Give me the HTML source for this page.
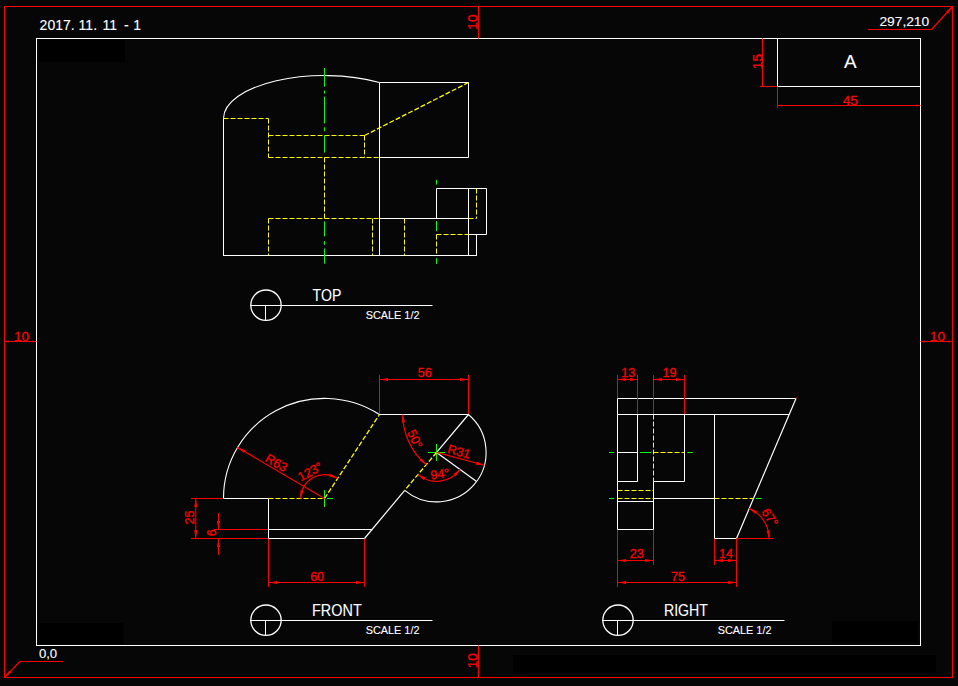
<!DOCTYPE html>
<html><head><meta charset="utf-8"><title>drawing</title>
<style>
html,body{margin:0;padding:0;background:#060606;overflow:hidden}
svg{display:block}
text{font-family:"Liberation Sans",sans-serif}
</style></head><body>
<svg width="958" height="686" viewBox="0 0 958 686">
<rect x="0" y="0" width="958" height="686" fill="#060606"/>
<rect x="39" y="39.6" width="86" height="22.4" fill="#000"/>
<rect x="39.6" y="623" width="83.80000000000001" height="21" fill="#000"/>
<rect x="832" y="621.3" width="86" height="21.200000000000045" fill="#000"/>
<rect x="513.3" y="655" width="422.4000000000001" height="17.700000000000045" fill="#000"/>
<rect x="4.5" y="6.5" width="948" height="671" fill="none" stroke="#ff0000" stroke-width="1"/>
<rect x="36.5" y="38.5" width="884" height="607" fill="none" stroke="#ffffff" stroke-width="1"/>
<line x1="777.50" y1="38.50" x2="777.50" y2="86.50" stroke="#ffffff" stroke-width="1"/>
<line x1="777.50" y1="86.50" x2="920.50" y2="86.50" stroke="#ffffff" stroke-width="1"/>
<path d="M223.5,118.5 A101,43 0 0 1 379.5,82.5" fill="none" stroke="#ffffff" stroke-width="1.1"/>
<line x1="223.50" y1="118.50" x2="223.50" y2="255.50" stroke="#ffffff" stroke-width="1"/>
<line x1="223.00" y1="255.50" x2="477.00" y2="255.50" stroke="#ffffff" stroke-width="1"/>
<line x1="379.50" y1="82.50" x2="379.50" y2="255.50" stroke="#ffffff" stroke-width="1"/>
<line x1="379.50" y1="82.50" x2="468.50" y2="82.50" stroke="#ffffff" stroke-width="1"/>
<line x1="468.50" y1="82.50" x2="468.50" y2="157.50" stroke="#ffffff" stroke-width="1"/>
<line x1="379.50" y1="157.50" x2="468.50" y2="157.50" stroke="#ffffff" stroke-width="1"/>
<line x1="379.50" y1="218.50" x2="468.50" y2="218.50" stroke="#ffffff" stroke-width="1"/>
<line x1="436.50" y1="188.50" x2="436.50" y2="218.50" stroke="#ffffff" stroke-width="1"/>
<line x1="436.50" y1="188.50" x2="486.50" y2="188.50" stroke="#ffffff" stroke-width="1"/>
<line x1="486.50" y1="188.50" x2="486.50" y2="234.50" stroke="#ffffff" stroke-width="1"/>
<line x1="468.50" y1="234.50" x2="486.50" y2="234.50" stroke="#ffffff" stroke-width="1"/>
<line x1="468.50" y1="188.50" x2="468.50" y2="255.50" stroke="#ffffff" stroke-width="1"/>
<line x1="476.50" y1="234.50" x2="476.50" y2="255.50" stroke="#ffffff" stroke-width="1"/>
<line x1="223.50" y1="118.50" x2="268.50" y2="118.50" stroke="#ffff00" stroke-width="1" stroke-dasharray="5 2"/>
<line x1="268.50" y1="118.50" x2="268.50" y2="157.50" stroke="#ffff00" stroke-width="1" stroke-dasharray="5 2"/>
<line x1="268.50" y1="135.50" x2="364.50" y2="135.50" stroke="#ffff00" stroke-width="1" stroke-dasharray="5 2"/>
<line x1="268.50" y1="157.50" x2="379.50" y2="157.50" stroke="#ffff00" stroke-width="1" stroke-dasharray="5 2"/>
<line x1="364.50" y1="135.50" x2="364.50" y2="157.50" stroke="#ffff00" stroke-width="1" stroke-dasharray="5 2"/>
<line x1="364.50" y1="135.50" x2="468.50" y2="82.50" stroke="#ffff00" stroke-width="1.3" stroke-dasharray="5 2"/>
<line x1="324.50" y1="157.50" x2="324.50" y2="218.50" stroke="#ffff00" stroke-width="1" stroke-dasharray="5 2"/>
<line x1="268.50" y1="218.50" x2="379.50" y2="218.50" stroke="#ffff00" stroke-width="1" stroke-dasharray="5 2"/>
<line x1="268.50" y1="218.50" x2="268.50" y2="255.50" stroke="#ffff00" stroke-width="1" stroke-dasharray="5 2"/>
<line x1="372.50" y1="218.50" x2="372.50" y2="255.50" stroke="#ffff00" stroke-width="1" stroke-dasharray="5 2"/>
<line x1="404.50" y1="218.50" x2="404.50" y2="255.50" stroke="#ffff00" stroke-width="1" stroke-dasharray="5 2"/>
<line x1="476.50" y1="188.50" x2="476.50" y2="218.50" stroke="#ffff00" stroke-width="1" stroke-dasharray="5 2"/>
<line x1="468.50" y1="218.50" x2="476.50" y2="218.50" stroke="#ffff00" stroke-width="1" stroke-dasharray="5 2"/>
<line x1="436.50" y1="234.50" x2="468.50" y2="234.50" stroke="#ffff00" stroke-width="1" stroke-dasharray="5 2"/>
<line x1="436.50" y1="234.50" x2="436.50" y2="255.50" stroke="#ffff00" stroke-width="1" stroke-dasharray="5 2"/>
<line x1="324.50" y1="68.00" x2="324.50" y2="86.80" stroke="#00ff00" stroke-width="1"/>
<line x1="324.50" y1="90.60" x2="324.50" y2="93.70" stroke="#00ff00" stroke-width="1"/>
<line x1="324.50" y1="96.70" x2="324.50" y2="123.50" stroke="#00ff00" stroke-width="1"/>
<line x1="324.50" y1="127.30" x2="324.50" y2="131.20" stroke="#00ff00" stroke-width="1"/>
<line x1="324.50" y1="135.00" x2="324.50" y2="152.60" stroke="#00ff00" stroke-width="1"/>
<line x1="324.50" y1="221.40" x2="324.50" y2="236.40" stroke="#00ff00" stroke-width="1"/>
<line x1="324.50" y1="241.10" x2="324.50" y2="244.90" stroke="#00ff00" stroke-width="1"/>
<line x1="324.50" y1="248.60" x2="324.50" y2="263.70" stroke="#00ff00" stroke-width="1"/>
<line x1="436.50" y1="179.90" x2="436.50" y2="184.60" stroke="#00ff00" stroke-width="1"/>
<line x1="436.50" y1="221.00" x2="436.50" y2="231.20" stroke="#00ff00" stroke-width="1"/>
<line x1="436.50" y1="258.20" x2="436.50" y2="264.00" stroke="#00ff00" stroke-width="1"/>
<circle cx="266.0" cy="305.2" r="15.2" fill="none" stroke="#ffffff" stroke-width="1.3"/>
<line x1="250.30" y1="305.50" x2="432.50" y2="305.50" stroke="#ffffff" stroke-width="1"/>
<line x1="265.50" y1="305.55" x2="265.50" y2="320.45" stroke="#ffffff" stroke-width="1"/>
<text x="312.60" y="300.85" font-size="16" fill="#ffffff" stroke="#ffffff" stroke-width="0.1" text-anchor="start" textLength="28.7" lengthAdjust="spacingAndGlyphs">TOP</text>
<text x="365.70" y="318.95" font-size="11.5" fill="#ffffff" stroke="#ffffff" stroke-width="0.1" text-anchor="start" textLength="53.8" lengthAdjust="spacingAndGlyphs">SCALE 1/2</text>
<circle cx="266.0" cy="620.1999999999999" r="15.2" fill="none" stroke="#ffffff" stroke-width="1.3"/>
<line x1="250.30" y1="620.50" x2="432.50" y2="620.50" stroke="#ffffff" stroke-width="1"/>
<line x1="265.50" y1="620.55" x2="265.50" y2="635.45" stroke="#ffffff" stroke-width="1"/>
<text x="312.00" y="615.85" font-size="16" fill="#ffffff" stroke="#ffffff" stroke-width="0.1" text-anchor="start" textLength="49.7" lengthAdjust="spacingAndGlyphs">FRONT</text>
<text x="365.70" y="633.95" font-size="11.5" fill="#ffffff" stroke="#ffffff" stroke-width="0.1" text-anchor="start" textLength="53.8" lengthAdjust="spacingAndGlyphs">SCALE 1/2</text>
<circle cx="618.0" cy="620.1999999999999" r="15.2" fill="none" stroke="#ffffff" stroke-width="1.3"/>
<line x1="602.30" y1="620.50" x2="784.50" y2="620.50" stroke="#ffffff" stroke-width="1"/>
<line x1="617.50" y1="620.55" x2="617.50" y2="635.45" stroke="#ffffff" stroke-width="1"/>
<text x="664.00" y="615.85" font-size="16" fill="#ffffff" stroke="#ffffff" stroke-width="0.1" text-anchor="start" textLength="43.9" lengthAdjust="spacingAndGlyphs">RIGHT</text>
<text x="717.70" y="633.95" font-size="11.5" fill="#ffffff" stroke="#ffffff" stroke-width="0.1" text-anchor="start" textLength="53.8" lengthAdjust="spacingAndGlyphs">SCALE 1/2</text>
<path d="M223.5,498.5 A101,100 0 0 1 379.5,414.5" fill="none" stroke="#ffffff" stroke-width="1.1"/>
<line x1="223.50" y1="498.50" x2="268.50" y2="498.50" stroke="#ffffff" stroke-width="1"/>
<line x1="268.50" y1="498.50" x2="268.50" y2="538.50" stroke="#ffffff" stroke-width="1"/>
<line x1="268.50" y1="529.50" x2="372.00" y2="529.50" stroke="#ffffff" stroke-width="1"/>
<line x1="268.50" y1="538.50" x2="364.50" y2="538.50" stroke="#ffffff" stroke-width="1"/>
<line x1="379.50" y1="414.50" x2="468.50" y2="414.50" stroke="#ffffff" stroke-width="1"/>
<line x1="468.50" y1="414.50" x2="436.60" y2="452.40" stroke="#ffffff" stroke-width="1.2"/>
<line x1="404.70" y1="490.30" x2="364.50" y2="538.50" stroke="#ffffff" stroke-width="1.2"/>
<line x1="436.60" y1="452.40" x2="476.30" y2="481.30" stroke="#ffffff" stroke-width="1.2"/>
<path d="M404.78,490.32 A49.50,49.50 0 0 0 468.42,414.48" fill="none" stroke="#ffffff" stroke-width="1.1"/>
<line x1="324.50" y1="490.00" x2="324.50" y2="507.00" stroke="#00ff00" stroke-width="1"/>
<line x1="327.00" y1="498.50" x2="333.00" y2="498.50" stroke="#00ff00" stroke-width="1"/>
<line x1="436.50" y1="444.00" x2="436.50" y2="461.00" stroke="#00ff00" stroke-width="1"/>
<line x1="428.00" y1="452.50" x2="445.00" y2="452.50" stroke="#00ff00" stroke-width="1"/>
<line x1="268.50" y1="498.50" x2="324.50" y2="498.50" stroke="#ffff00" stroke-width="1" stroke-dasharray="5 2"/>
<line x1="324.50" y1="498.50" x2="379.50" y2="414.50" stroke="#ffff00" stroke-width="1.3" stroke-dasharray="5 2"/>
<line x1="436.60" y1="452.40" x2="404.70" y2="490.30" stroke="#ffff00" stroke-width="1.3" stroke-dasharray="5 2"/>
<line x1="379.50" y1="375.00" x2="379.50" y2="414.00" stroke="#ff0000" stroke-width="1"/>
<line x1="468.50" y1="375.00" x2="468.50" y2="414.00" stroke="#ff0000" stroke-width="1"/>
<line x1="379.50" y1="379.50" x2="468.50" y2="379.50" stroke="#ff0000" stroke-width="1"/>
<polygon points="379.50,379.50 388.00,377.90 388.00,381.10" fill="#ff0000"/>
<polygon points="468.50,379.50 460.00,381.10 460.00,377.90" fill="#ff0000"/>
<text x="424.65" y="376.80" font-size="12.5" fill="#ff0000" stroke="#ff0000" stroke-width="0.3" text-anchor="middle">56</text>
<line x1="268.50" y1="539.00" x2="268.50" y2="587.00" stroke="#ff0000" stroke-width="1"/>
<line x1="364.50" y1="539.00" x2="364.50" y2="587.00" stroke="#ff0000" stroke-width="1"/>
<line x1="268.50" y1="582.50" x2="364.50" y2="582.50" stroke="#ff0000" stroke-width="1"/>
<polygon points="268.50,582.50 277.00,580.90 277.00,584.10" fill="#ff0000"/>
<polygon points="364.50,582.50 356.00,584.10 356.00,580.90" fill="#ff0000"/>
<text x="317.10" y="580.70" font-size="12.5" fill="#ff0000" stroke="#ff0000" stroke-width="0.3" text-anchor="middle">60</text>
<line x1="191.00" y1="498.50" x2="223.00" y2="498.50" stroke="#ff0000" stroke-width="1"/>
<line x1="191.00" y1="538.50" x2="268.00" y2="538.50" stroke="#ff0000" stroke-width="1"/>
<line x1="195.80" y1="498.50" x2="195.80" y2="538.50" stroke="#ff0000" stroke-width="1"/>
<polygon points="195.80,498.50 197.40,507.00 194.20,507.00" fill="#ff0000"/>
<polygon points="195.80,538.50 194.20,530.00 197.40,530.00" fill="#ff0000"/>
<text x="0" y="4.47" font-size="12.5" fill="#ff0000" stroke="#ff0000" stroke-width="0.3" text-anchor="middle" transform="translate(189.40 517.60) rotate(-90)">25</text>
<line x1="214.00" y1="529.50" x2="268.00" y2="529.50" stroke="#ff0000" stroke-width="1"/>
<line x1="218.50" y1="513.00" x2="218.50" y2="529.50" stroke="#ff0000" stroke-width="1"/>
<line x1="218.50" y1="538.50" x2="218.50" y2="555.00" stroke="#ff0000" stroke-width="1"/>
<polygon points="218.50,529.50 216.90,521.00 220.10,521.00" fill="#ff0000"/>
<polygon points="218.50,538.50 220.10,547.00 216.90,547.00" fill="#ff0000"/>
<text x="0" y="4.47" font-size="12.5" fill="#ff0000" stroke="#ff0000" stroke-width="0.3" text-anchor="middle" transform="translate(211.90 532.90) rotate(-90)">6</text>
<line x1="324.50" y1="498.50" x2="237.39" y2="447.39" stroke="#ff0000" stroke-width="1.2"/>
<polygon points="237.39,447.39 245.53,450.31 243.91,453.07" fill="#ff0000"/>
<text x="0" y="4.47" font-size="12.5" fill="#ff0000" stroke="#ff0000" stroke-width="0.3" text-anchor="middle" transform="translate(276.50 462.60) rotate(30.4)">R63</text>
<path d="M337.52,478.46 A23.90,23.90 0 0 0 300.60,498.50" fill="none" stroke="#ff0000" stroke-width="1.2"/>
<polygon points="337.52,478.46 329.54,476.75 330.81,473.81" fill="#ff0000"/>
<polygon points="300.60,498.50 300.36,490.35 303.51,490.88" fill="#ff0000"/>
<text x="0" y="4.47" font-size="12.5" fill="#ff0000" stroke="#ff0000" stroke-width="0.3" text-anchor="middle" transform="translate(310.00 471.40) rotate(-28.5)">123°</text>
<path d="M402.80,414.50 A65.70,65.70 0 0 0 426.27,464.83" fill="none" stroke="#ff0000" stroke-width="1.2"/>
<polygon points="402.80,414.50 404.88,422.39 401.69,422.58" fill="#ff0000"/>
<polygon points="426.27,464.83 419.36,460.48 421.57,458.16" fill="#ff0000"/>
<text x="0" y="4.47" font-size="12.5" fill="#ff0000" stroke="#ff0000" stroke-width="0.3" text-anchor="middle" transform="translate(415.00 439.00) rotate(65)">50°</text>
<line x1="436.60" y1="452.40" x2="484.39" y2="465.29" stroke="#ff0000" stroke-width="1.2"/>
<polygon points="484.39,465.29 475.77,464.63 476.60,461.54" fill="#ff0000"/>
<text x="0" y="4.47" font-size="12.5" fill="#ff0000" stroke="#ff0000" stroke-width="0.3" text-anchor="middle" transform="translate(459.10 451.50) rotate(15.1)">R31</text>
<path d="M417.96,474.62 A29.00,29.00 0 0 0 460.06,469.45" fill="none" stroke="#ff0000" stroke-width="1.2"/>
<polygon points="417.96,474.62 425.59,477.51 423.89,480.22" fill="#ff0000"/>
<polygon points="460.06,469.45 455.67,476.32 453.36,474.10" fill="#ff0000"/>
<text x="0" y="4.47" font-size="12.5" fill="#ff0000" stroke="#ff0000" stroke-width="0.3" text-anchor="middle" transform="translate(439.90 473.80) rotate(-7)">94°</text>
<line x1="617.50" y1="398.50" x2="796.00" y2="398.50" stroke="#ffffff" stroke-width="1"/>
<line x1="617.50" y1="414.50" x2="789.20" y2="414.50" stroke="#ffffff" stroke-width="1"/>
<line x1="617.50" y1="398.50" x2="617.50" y2="529.50" stroke="#ffffff" stroke-width="1"/>
<line x1="617.50" y1="529.50" x2="653.50" y2="529.50" stroke="#ffffff" stroke-width="1"/>
<line x1="653.50" y1="481.50" x2="653.50" y2="529.50" stroke="#ffffff" stroke-width="1"/>
<line x1="637.50" y1="414.50" x2="637.50" y2="481.50" stroke="#ffffff" stroke-width="1"/>
<line x1="617.50" y1="481.50" x2="637.50" y2="481.50" stroke="#ffffff" stroke-width="1"/>
<line x1="653.50" y1="481.50" x2="684.50" y2="481.50" stroke="#ffffff" stroke-width="1"/>
<line x1="684.50" y1="414.50" x2="684.50" y2="481.50" stroke="#ffffff" stroke-width="1"/>
<line x1="617.50" y1="452.50" x2="637.50" y2="452.50" stroke="#ffffff" stroke-width="1"/>
<line x1="617.50" y1="501.50" x2="653.50" y2="501.50" stroke="#ffffff" stroke-width="1"/>
<line x1="653.50" y1="498.50" x2="714.50" y2="498.50" stroke="#ffffff" stroke-width="1"/>
<line x1="714.50" y1="414.50" x2="714.50" y2="538.50" stroke="#ffffff" stroke-width="1"/>
<line x1="714.50" y1="538.50" x2="736.50" y2="538.50" stroke="#ffffff" stroke-width="1"/>
<line x1="736.50" y1="538.50" x2="796.00" y2="398.50" stroke="#ffffff" stroke-width="1.2"/>
<line x1="653.50" y1="414.50" x2="653.50" y2="481.50" stroke="#ffff00" stroke-width="1" stroke-dasharray="5 2"/>
<line x1="653.50" y1="452.50" x2="684.50" y2="452.50" stroke="#ffff00" stroke-width="1" stroke-dasharray="5 2"/>
<line x1="617.50" y1="490.50" x2="653.50" y2="490.50" stroke="#ffff00" stroke-width="1" stroke-dasharray="5 2"/>
<line x1="617.50" y1="498.50" x2="653.50" y2="498.50" stroke="#ffff00" stroke-width="1" stroke-dasharray="5 2"/>
<line x1="714.50" y1="498.50" x2="753.70" y2="498.50" stroke="#ffff00" stroke-width="1" stroke-dasharray="5 2"/>
<line x1="609.00" y1="452.50" x2="614.10" y2="452.50" stroke="#00ff00" stroke-width="1"/>
<line x1="640.10" y1="452.50" x2="651.00" y2="452.50" stroke="#00ff00" stroke-width="1"/>
<line x1="687.40" y1="452.50" x2="692.80" y2="452.50" stroke="#00ff00" stroke-width="1"/>
<line x1="609.00" y1="498.50" x2="614.10" y2="498.50" stroke="#00ff00" stroke-width="1"/>
<line x1="756.00" y1="498.50" x2="761.80" y2="498.50" stroke="#00ff00" stroke-width="1"/>
<line x1="617.50" y1="375.00" x2="617.50" y2="398.00" stroke="#ff0000" stroke-width="1"/>
<line x1="637.50" y1="375.00" x2="637.50" y2="414.00" stroke="#ff0000" stroke-width="1"/>
<line x1="617.50" y1="379.50" x2="637.50" y2="379.50" stroke="#ff0000" stroke-width="1"/>
<polygon points="617.50,379.50 625.00,377.90 625.00,381.10" fill="#ff0000"/>
<polygon points="637.50,379.50 630.00,381.10 630.00,377.90" fill="#ff0000"/>
<text x="628.30" y="376.80" font-size="12.5" fill="#ff0000" stroke="#ff0000" stroke-width="0.3" text-anchor="middle">13</text>
<line x1="653.50" y1="375.00" x2="653.50" y2="414.00" stroke="#ff0000" stroke-width="1"/>
<line x1="684.50" y1="375.00" x2="684.50" y2="414.00" stroke="#ff0000" stroke-width="1"/>
<line x1="653.50" y1="379.50" x2="684.50" y2="379.50" stroke="#ff0000" stroke-width="1"/>
<polygon points="653.50,379.50 662.00,377.90 662.00,381.10" fill="#ff0000"/>
<polygon points="684.50,379.50 676.00,381.10 676.00,377.90" fill="#ff0000"/>
<text x="669.55" y="376.80" font-size="12.5" fill="#ff0000" stroke="#ff0000" stroke-width="0.3" text-anchor="middle">19</text>
<line x1="617.50" y1="530.00" x2="617.50" y2="587.00" stroke="#ff0000" stroke-width="1"/>
<line x1="653.50" y1="530.00" x2="653.50" y2="565.00" stroke="#ff0000" stroke-width="1"/>
<line x1="617.50" y1="560.50" x2="653.50" y2="560.50" stroke="#ff0000" stroke-width="1"/>
<polygon points="617.50,560.50 626.00,558.90 626.00,562.10" fill="#ff0000"/>
<polygon points="653.50,560.50 645.00,562.10 645.00,558.90" fill="#ff0000"/>
<text x="636.65" y="558.00" font-size="12.5" fill="#ff0000" stroke="#ff0000" stroke-width="0.3" text-anchor="middle">23</text>
<line x1="714.50" y1="539.00" x2="714.50" y2="565.00" stroke="#ff0000" stroke-width="1"/>
<line x1="736.50" y1="539.00" x2="736.50" y2="587.00" stroke="#ff0000" stroke-width="1"/>
<line x1="714.50" y1="560.50" x2="736.50" y2="560.50" stroke="#ff0000" stroke-width="1"/>
<polygon points="714.50,560.50 723.00,558.90 723.00,562.10" fill="#ff0000"/>
<polygon points="736.50,560.50 728.00,562.10 728.00,558.90" fill="#ff0000"/>
<text x="726.00" y="558.00" font-size="12.5" fill="#ff0000" stroke="#ff0000" stroke-width="0.3" text-anchor="middle">14</text>
<line x1="617.50" y1="582.50" x2="736.50" y2="582.50" stroke="#ff0000" stroke-width="1"/>
<polygon points="617.50,582.50 626.00,580.90 626.00,584.10" fill="#ff0000"/>
<polygon points="736.50,582.50 728.00,584.10 728.00,580.90" fill="#ff0000"/>
<text x="678.00" y="581.00" font-size="12.5" fill="#ff0000" stroke="#ff0000" stroke-width="0.3" text-anchor="middle">75</text>
<line x1="736.50" y1="538.50" x2="773.70" y2="538.50" stroke="#ff0000" stroke-width="1"/>
<path d="M769.10,538.50 A32.60,32.60 0 0 0 749.24,508.49" fill="none" stroke="#ff0000" stroke-width="1.2"/>
<polygon points="769.10,538.50 766.53,530.76 769.71,530.36" fill="#ff0000"/>
<polygon points="749.24,508.49 756.96,511.11 755.36,513.88" fill="#ff0000"/>
<text x="0" y="4.47" font-size="12.5" fill="#ff0000" stroke="#ff0000" stroke-width="0.3" text-anchor="middle" transform="translate(770.00 517.30) rotate(56.5)">67°</text>
<rect x="795.5" y="397.5" width="1.2" height="1.2" fill="#ff0000"/>
<line x1="478.50" y1="6.50" x2="478.50" y2="38.50" stroke="#ff0000" stroke-width="1"/>
<polygon points="478.50,6.50 479.40,10.80 477.60,10.80" fill="#ff0000"/>
<polygon points="478.50,38.50 477.60,34.20 479.40,34.20" fill="#ff0000"/>
<text x="0" y="4.87" font-size="13.6" fill="#ff0000" stroke="#ff0000" stroke-width="0.3" text-anchor="middle" transform="translate(472.40 22.10) rotate(-90)">10</text>
<line x1="478.50" y1="645.50" x2="478.50" y2="677.50" stroke="#ff0000" stroke-width="1"/>
<polygon points="478.50,645.50 479.40,649.80 477.60,649.80" fill="#ff0000"/>
<polygon points="478.50,677.50 477.60,673.20 479.40,673.20" fill="#ff0000"/>
<text x="0" y="4.87" font-size="13.6" fill="#ff0000" stroke="#ff0000" stroke-width="0.3" text-anchor="middle" transform="translate(472.40 660.80) rotate(-90)">10</text>
<line x1="4.50" y1="341.50" x2="36.50" y2="341.50" stroke="#ff0000" stroke-width="1"/>
<polygon points="4.50,341.50 8.80,340.60 8.80,342.40" fill="#ff0000"/>
<polygon points="36.50,341.50 32.20,342.40 32.20,340.60" fill="#ff0000"/>
<text x="21.50" y="340.70" font-size="13.6" fill="#ff0000" stroke="#ff0000" stroke-width="0.3" text-anchor="middle">10</text>
<line x1="920.50" y1="341.50" x2="952.50" y2="341.50" stroke="#ff0000" stroke-width="1"/>
<polygon points="920.50,341.50 924.80,340.60 924.80,342.40" fill="#ff0000"/>
<polygon points="952.50,341.50 948.20,342.40 948.20,340.60" fill="#ff0000"/>
<text x="937.40" y="340.70" font-size="13.6" fill="#ff0000" stroke="#ff0000" stroke-width="0.3" text-anchor="middle">10</text>
<line x1="762.50" y1="38.50" x2="762.50" y2="86.50" stroke="#ff0000" stroke-width="1"/>
<line x1="760.00" y1="86.50" x2="777.00" y2="86.50" stroke="#ff0000" stroke-width="1"/>
<polygon points="762.50,38.50 763.40,42.80 761.60,42.80" fill="#ff0000"/>
<polygon points="762.50,86.50 761.60,82.20 763.40,82.20" fill="#ff0000"/>
<text x="0" y="4.87" font-size="13.6" fill="#ff0000" stroke="#ff0000" stroke-width="0.3" text-anchor="middle" transform="translate(757.00 61.60) rotate(-90)">15</text>
<line x1="777.50" y1="87.00" x2="777.50" y2="108.00" stroke="#ff0000" stroke-width="1"/>
<line x1="777.50" y1="105.50" x2="920.50" y2="105.50" stroke="#ff0000" stroke-width="1"/>
<polygon points="777.50,105.50 781.80,104.60 781.80,106.40" fill="#ff0000"/>
<polygon points="920.50,105.50 916.20,106.40 916.20,104.60" fill="#ff0000"/>
<text x="850.20" y="104.80" font-size="13.6" fill="#ff0000" stroke="#ff0000" stroke-width="0.3" text-anchor="middle">45</text>
<line x1="868.00" y1="29.50" x2="931.60" y2="29.50" stroke="#ff0000" stroke-width="1"/>
<line x1="931.60" y1="29.50" x2="952.50" y2="6.50" stroke="#ff0000" stroke-width="1.2"/>
<polygon points="952.50,6.50 948.16,13.36 946.08,11.48" fill="#ff0000"/>
<line x1="20.00" y1="661.50" x2="63.40" y2="661.50" stroke="#ff0000" stroke-width="1"/>
<line x1="20.00" y1="661.50" x2="4.50" y2="677.50" stroke="#ff0000" stroke-width="1.2"/>
<polygon points="4.50,677.50 9.06,670.78 11.07,672.73" fill="#ff0000"/>
<text x="39.60" y="30.10" font-size="14" fill="#ffffff" stroke="#ffffff" stroke-width="0.1" text-anchor="start">2017.</text>
<text x="78.60" y="30.10" font-size="14" fill="#ffffff" stroke="#ffffff" stroke-width="0.1" text-anchor="start">11.</text>
<text x="102.40" y="30.10" font-size="14" fill="#ffffff" stroke="#ffffff" stroke-width="0.1" text-anchor="start">11</text>
<text x="124.00" y="30.10" font-size="14" fill="#ffffff" stroke="#ffffff" stroke-width="0.1" text-anchor="start">-</text>
<text x="133.20" y="30.10" font-size="14" fill="#ffffff" stroke="#ffffff" stroke-width="0.1" text-anchor="start">1</text>
<text x="879.40" y="25.60" font-size="13.6" fill="#ffffff" stroke="#ffffff" stroke-width="0.1" text-anchor="start" textLength="49.8" lengthAdjust="spacingAndGlyphs">297,210</text>
<text x="38.90" y="658.20" font-size="13.6" fill="#ffffff" stroke="#ffffff" stroke-width="0.1" text-anchor="start" textLength="18.3" lengthAdjust="spacingAndGlyphs">0,0</text>
<text x="850.20" y="68.20" font-size="18.9" fill="#ffffff" stroke="#ffffff" stroke-width="0.1" text-anchor="middle">A</text>
</svg>
</body></html>
